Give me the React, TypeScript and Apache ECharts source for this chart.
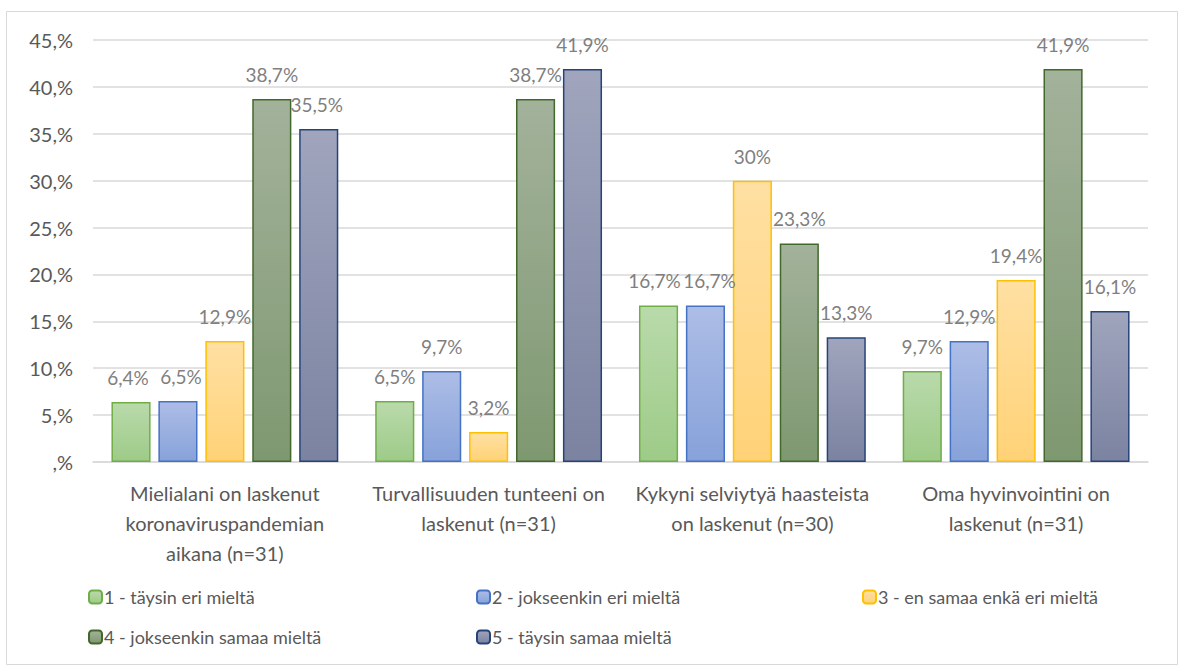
import React, { useEffect, useRef } from "react";
import * as echarts from "echarts";

const categories = [
  "Mielialani on laskenut\nkoronaviruspandemian\naikana (n=31)",
  "Turvallisuuden tunteeni on\nlaskenut (n=31)",
  "Kykyni selviytyä haasteista\non laskenut (n=30)",
  "Oma hyvinvointini on\nlaskenut (n=31)",
];
const seriesNames = [
  "1 - täysin eri mieltä",
  "2 - jokseenkin eri mieltä",
  "3 - en samaa enkä eri mieltä",
  "4 - jokseenkin samaa mieltä",
  "5 - täysin samaa mieltä",
];
const s1 = [6.4, 6.5, 16.7, 9.7];
const s2 = [6.5, 9.7, 16.7, 12.9];
const s3 = [12.9, 3.2, 30, 19.4];
const s4 = [38.7, 38.7, 23.3, 41.9];
const s5 = [35.5, 41.9, 13.3, 16.1];
const seriesData = [s1, s2, s3, s4, s5];

const styles = [
  { top: "#b9daab", bottom: "#9ecb88", border: "#70ad47" },
  { top: "#adbde6", bottom: "#87a2da", border: "#4472c4" },
  { top: "#ffe0a3", bottom: "#ffd277", border: "#ffc000" },
  { top: "#a3b29b", bottom: "#7e9870", border: "#43682b" },
  { top: "#a0a5bd", bottom: "#7b83a1", border: "#264478" },
];

const FONT = "Lato";
const fmt = (v: number) => String(v).replace(".", ",") + "%";

// label nudges (series index -> category index -> [dx, dy]) to keep adjacent labels apart, like the reference
const labelNudge: Record<string, [number, number]> = {
  "0-0": [-3, 0],
  "1-0": [3, 0],
  "0-2": [-4, 0],
  "1-2": [4, 0],
  "4-0": [-2, 0],
};

export default function App() {
  const ref = useRef<HTMLDivElement>(null);
  useEffect(() => {
    document.body.style.margin = "0";
    const chart = echarts.init(ref.current!, null, { renderer: "svg" });
    const legendPos = [
      [88, 588],
      [476, 588],
      [862, 588],
      [88, 628],
      [476, 628],
    ];
    chart.setOption({
      animation: false,
      backgroundColor: "#ffffff",
      textStyle: { fontFamily: FONT },
      graphic: [
        {
          type: "rect",
          shape: { x: 6.5, y: 11.5, width: 1171, height: 653 },
          style: { fill: "none", stroke: "#d9d9d9", lineWidth: 1 },
          silent: true,
        },
      ],
      legend: seriesNames.map((n, i) => ({
        data: [n],
        left: legendPos[i][0],
        top: legendPos[i][1],
        itemWidth: 13,
        itemHeight: 13,
        itemGap: 4,
        padding: 0,
        textStyle: { fontFamily: FONT, fontSize: 18, color: "#595959", padding: [0, 0, 0, -3] },
        selectedMode: false,
      })),
      grid: { left: 93, right: 35, top: 40, bottom: 209, containLabel: false },
      xAxis: {
        type: "category",
        data: categories,
        axisLine: { lineStyle: { color: "#d9d9d9", width: 1.5 } },
        axisTick: { show: false },
        axisLabel: {
          interval: 0,
          fontFamily: FONT,
          fontSize: 20,
          color: "#595959",
          lineHeight: 30,
          margin: 16,
        },
      },
      yAxis: {
        type: "value",
        min: 0,
        max: 45,
        interval: 5,
        axisLine: { show: false },
        axisTick: { show: false },
        splitLine: { lineStyle: { color: "#d9d9d9", width: 1.5 } },
        axisLabel: {
          fontFamily: FONT,
          fontSize: 20,
          color: "#595959",
          margin: 20,
          formatter: (v: number) => (v === 0 ? ",%" : v + ",%"),
        },
      },
      series: seriesData.map((d, i) => ({
        type: "bar",
        name: seriesNames[i],
        data: d.map((v, j) => {
          const nudge = labelNudge[i + "-" + j];
          return nudge ? { value: v, label: { offset: nudge } } : v;
        }),
        barGap: "20%",
        barCategoryGap: "14%",
        itemStyle: {
          color: new echarts.graphic.LinearGradient(0, 0, 0, 1, [
            { offset: 0, color: styles[i].top },
            { offset: 1, color: styles[i].bottom },
          ]),
          borderColor: styles[i].border,
          borderWidth: 1.5,
        },
        label: {
          show: true,
          position: "top",
          distance: 15,
          fontFamily: FONT,
          fontSize: 19,
          color: "#7f7f7f",
          formatter: (p: any) => fmt(p.value),
        },
      })),
    });
    return () => chart.dispose();
  }, []);
  return (
    <div
      ref={ref}
      style={{ position: "fixed", left: 0, top: 0, width: 1183, height: 671 }}
    />
  );
}
